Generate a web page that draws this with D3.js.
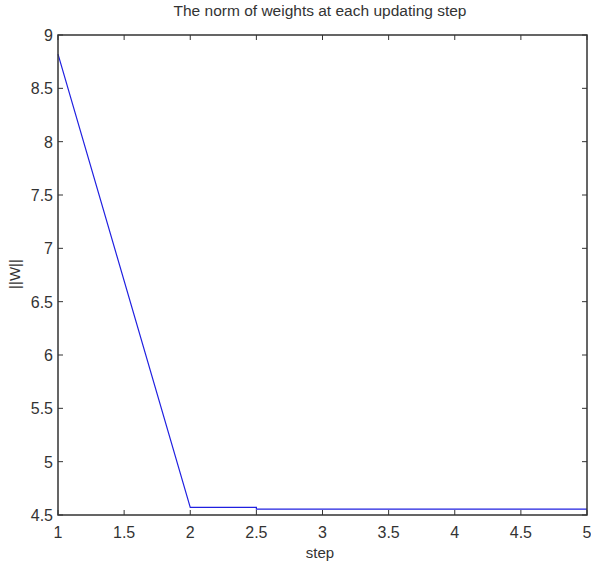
<!DOCTYPE html>
<html>
<head>
<meta charset="utf-8">
<script src="https://cdn.jsdelivr.net/npm/d3@7"></script>
<style>
  body { margin: 0; background: #fff; }
  text { font-family: "Liberation Sans", Arial, sans-serif; fill: #333; }
</style>
</head>
<body>
<div id="chart"></div>
<script>
// values
const steps = [1, 2, 2.5, 2.5, 3, 4, 5];
const norms = [8.82, 4.572, 4.572, 4.556, 4.556, 4.556, 4.556];
const xTicks = [1, 1.5, 2, 2.5, 3, 3.5, 4, 4.5, 5];
const yTicks = [4.5, 5, 5.5, 6, 6.5, 7, 7.5, 8, 8.5, 9];

const width = 591, height = 565;
const axLeft = 58, axRight = 587, axTop = 35, axBottom = 515;
const tickLen = 5;

var svg = d3.select("#chart").append("svg")
  .attr("width", width)
  .attr("height", height);

var xScale = d3.scaleLinear().domain([1, 5]).range([axLeft, axRight]);
var yScale = d3.scaleLinear().domain([4.5, 9]).range([axBottom, axTop]);

// data line
var line = d3.line()
  .x(function(d) { return xScale(d[0]); })
  .y(function(d) { return yScale(d[1]); });

svg.append("path")
  .datum(d3.zip(steps, norms))
  .attr("d", line)
  .attr("fill", "none")
  .attr("stroke", "#2020e0")
  .attr("stroke-width", 1.2);

// ticks pointing inward, on all four sides
var g = svg.append("g").attr("stroke", "#333").attr("stroke-width", 1);
xTicks.forEach(function(t) {
  g.append("line").attr("x1", xScale(t)).attr("x2", xScale(t))
    .attr("y1", axBottom).attr("y2", axBottom - tickLen);
  g.append("line").attr("x1", xScale(t)).attr("x2", xScale(t))
    .attr("y1", axTop).attr("y2", axTop + tickLen);
});
yTicks.forEach(function(t) {
  g.append("line").attr("x1", axLeft).attr("x2", axLeft + tickLen)
    .attr("y1", yScale(t)).attr("y2", yScale(t));
  g.append("line").attr("x1", axRight).attr("x2", axRight - tickLen)
    .attr("y1", yScale(t)).attr("y2", yScale(t));
});

// box
svg.append("rect")
  .attr("x", axLeft).attr("y", axTop)
  .attr("width", axRight - axLeft).attr("height", axBottom - axTop)
  .attr("fill", "none")
  .attr("stroke", "#333")
  .attr("stroke-width", 1.5);

// tick labels
svg.selectAll(".xlab").data(xTicks).enter().append("text")
  .attr("class", "xlab")
  .attr("x", function(d) { return xScale(d); })
  .attr("y", 538)
  .attr("text-anchor", "middle")
  .style("font-size", "16px")
  .text(function(d) { return d; });

svg.selectAll(".ylab").data(yTicks).enter().append("text")
  .attr("class", "ylab")
  .attr("x", 53)
  .attr("y", function(d) { return yScale(d) + 6; })
  .attr("text-anchor", "end")
  .style("font-size", "16px")
  .text(function(d) { return d; });

// titles
svg.append("text")
  .attr("x", 320).attr("y", 16)
  .attr("text-anchor", "middle")
  .style("font-size", "15.5px")
  .text("The norm of weights at each updating step");

svg.append("text")
  .attr("x", 320).attr("y", 558)
  .attr("text-anchor", "middle")
  .style("font-size", "15px")
  .text("step");

svg.append("text")
  .attr("transform", "translate(20, 274) rotate(-90)")
  .attr("text-anchor", "middle")
  .style("font-size", "15px")
  .text("||W||");
</script>
</body>
</html>
